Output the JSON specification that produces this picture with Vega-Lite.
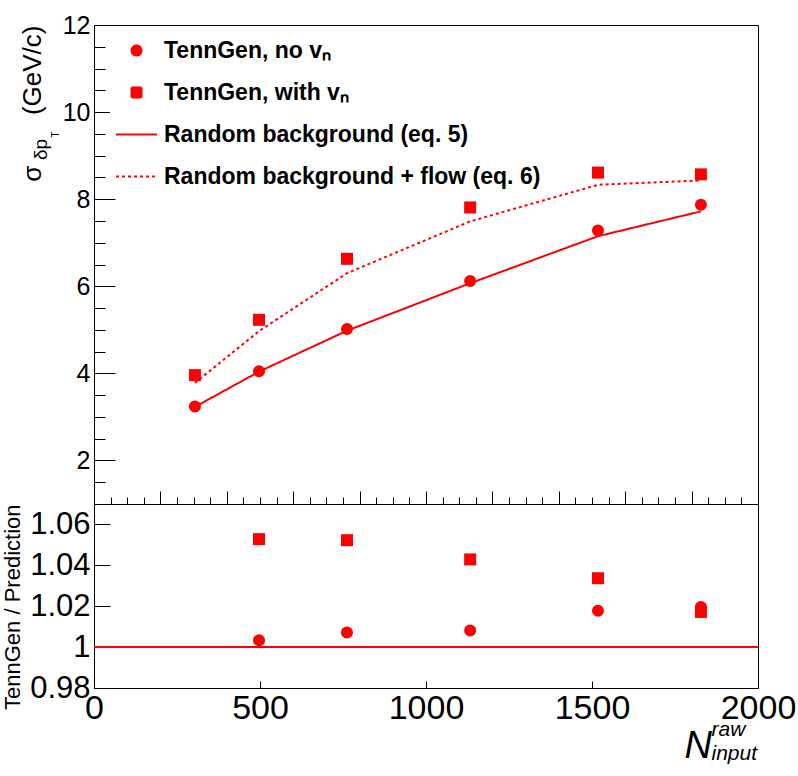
{
  "$schema": "https://vega.github.io/schema/vega-lite/v6.json",
  "background": "white",
  "padding": {"left": 0, "top": 12, "right": 0, "bottom": 0},
  "bounds": "flush",
  "spacing": 0,
  "config": {
    "font": "Liberation Sans",
    "view": {"stroke": "#000000", "strokeWidth": 1},
    "axis": {
      "domain": false,
      "grid": false,
      "tickColor": "#000000",
      "tickWidth": 1,
      "labelColor": "#000000",
      "titleColor": "#000000",
      "labelFont": "Liberation Sans",
      "titleFont": "Liberation Sans",
      "titleFontWeight": "normal",
      "labelOverlap": false,
      "labelFlush": false,
      "labelBound": false
    }
  },
  "datasets": {
    "sigma": [
      {"n": 304, "series": "TennGen, no v\u2099", "sigma": 3.24},
      {"n": 497, "series": "TennGen, no v\u2099", "sigma": 4.05},
      {"n": 762, "series": "TennGen, no v\u2099", "sigma": 5.02},
      {"n": 1133, "series": "TennGen, no v\u2099", "sigma": 6.12},
      {"n": 1518, "series": "TennGen, no v\u2099", "sigma": 7.28},
      {"n": 1828, "series": "TennGen, no v\u2099", "sigma": 7.87},
      {"n": 304, "series": "TennGen, with v\u2099", "sigma": 3.96},
      {"n": 497, "series": "TennGen, with v\u2099", "sigma": 5.23},
      {"n": 762, "series": "TennGen, with v\u2099", "sigma": 6.63},
      {"n": 1133, "series": "TennGen, with v\u2099", "sigma": 7.81},
      {"n": 1518, "series": "TennGen, with v\u2099", "sigma": 8.61},
      {"n": 1828, "series": "TennGen, with v\u2099", "sigma": 8.57}
    ],
    "prediction": [
      {"n": 304, "series": "Random background (eq. 5)", "pred": 3.23},
      {"n": 497, "series": "Random background (eq. 5)", "pred": 4.04},
      {"n": 762, "series": "Random background (eq. 5)", "pred": 4.98},
      {"n": 1133, "series": "Random background (eq. 5)", "pred": 6.07},
      {"n": 1518, "series": "Random background (eq. 5)", "pred": 7.15},
      {"n": 1828, "series": "Random background (eq. 5)", "pred": 7.72},
      {"n": 304, "series": "Random background + flow (eq. 6)", "pred": 3.78},
      {"n": 497, "series": "Random background + flow (eq. 6)", "pred": 4.97},
      {"n": 762, "series": "Random background + flow (eq. 6)", "pred": 6.3},
      {"n": 1133, "series": "Random background + flow (eq. 6)", "pred": 7.49},
      {"n": 1518, "series": "Random background + flow (eq. 6)", "pred": 8.33},
      {"n": 1828, "series": "Random background + flow (eq. 6)", "pred": 8.43}
    ],
    "ratio": [
      {"n": 497, "series": "TennGen, no v\u2099", "ratio": 1.0033},
      {"n": 762, "series": "TennGen, no v\u2099", "ratio": 1.0072},
      {"n": 1133, "series": "TennGen, no v\u2099", "ratio": 1.0081},
      {"n": 1518, "series": "TennGen, no v\u2099", "ratio": 1.0178},
      {"n": 1828, "series": "TennGen, no v\u2099", "ratio": 1.0196},
      {"n": 497, "series": "TennGen, with v\u2099", "ratio": 1.0528},
      {"n": 762, "series": "TennGen, with v\u2099", "ratio": 1.0523},
      {"n": 1133, "series": "TennGen, with v\u2099", "ratio": 1.0429},
      {"n": 1518, "series": "TennGen, with v\u2099", "ratio": 1.0337},
      {"n": 1828, "series": "TennGen, with v\u2099", "ratio": 1.0172}
    ],
    "unity": [{"ratio": 1}]
  },
  "resolve": {
    "scale": {"color": "independent", "shape": "independent", "strokeDash": "independent"},
    "legend": {"color": "independent", "shape": "independent", "strokeDash": "independent"}
  },
  "vconcat": [
    {
      "width": 664,
      "height": 479,
      "resolve": {"axis": {"x": "independent", "y": "independent"}},
      "layer": [
        {
          "data": {"name": "sigma"},
          "mark": {"type": "point", "filled": true, "size": 144, "opacity": 1},
          "encoding": {
            "x": {
              "field": "n", "type": "quantitative",
              "scale": {"domain": [0, 2000], "nice": false, "zero": false},
              "axis": {
                "orient": "bottom",
                "values": [0, 50, 100, 150, 200, 250, 300, 350, 400, 450, 500, 550, 600, 650, 700, 750, 800, 850, 900, 950, 1000, 1050, 1100, 1150, 1200, 1250, 1300, 1350, 1400, 1450, 1500, 1550, 1600, 1650, 1700, 1750, 1800, 1850, 1900, 1950, 2000],
                "labels": false,
                "tickSize": {"condition": {"test": "datum.value % 200 === 0", "value": -13}, "value": -7},
                "title": "\u03b4p",
                "titleFontSize": 19,
                "titleAngle": 270,
                "titleAlign": "center",
                "titleBaseline": "alphabetic",
                "titleX": -48,
                "titleY": -355
              }
            },
            "y": {
              "field": "sigma", "type": "quantitative",
              "scale": {"domain": [1, 12], "nice": false, "zero": false},
              "axis": {
                "orient": "left",
                "values": [1.5, 2, 2.5, 3, 3.5, 4, 4.5, 5, 5.5, 6, 6.5, 7, 7.5, 8, 8.5, 9, 9.5, 10, 10.5, 11, 11.5, 12],
                "labelExpr": "datum.value % 2 === 0 ? format(datum.value, 'd') : ''",
                "labelFontSize": 25,
                "labelBaseline": "middle",
                "labelPadding": 25,
                "tickSize": {"condition": {"test": "datum.value % 2 === 0", "value": -21}, "value": -11},
                "title": "\u03c3\u00a0\u00a0\u00a0\u00a0\u00a0\u00a0\u00a0(GeV/c)",
                "titleFontSize": 26,
                "titleAngle": 270,
                "titleAlign": "right",
                "titleBaseline": "alphabetic",
                "titleX": -54,
                "titleY": 0
              }
            },
            "color": {
              "field": "series", "type": "nominal",
              "scale": {
                "domain": ["TennGen, no v\u2099", "TennGen, with v\u2099", "Random background (eq. 5)", "Random background + flow (eq. 6)"],
                "range": ["#ff0000", "#ff0000", "#ff0000", "#ff0000"]
              },
              "legend": {
                "title": null, "orient": "none", "legendX": 16, "legendY": 14, "padding": 0, "fillColor": "white",
                "labelFont": "Liberation Sans", "labelFontSize": 23, "labelFontWeight": "bold", "labelColor": "#000000", "labelLimit": 600,
                "symbolSize": 100, "symbolOffset": 15, "labelOffset": 16, "rowPadding": 18, "symbolStrokeWidth": 2,
                "encode": {"symbols": {"update": {"fill": {"value": "#ff0000"}, "stroke": {"value": "#ff0000"}, "strokeWidth": {"value": 2}, "opacity": {"value": 1}}}}
              }
            },
            "shape": {
              "field": "series", "type": "nominal",
              "scale": {
                "domain": ["TennGen, no v\u2099", "TennGen, with v\u2099", "Random background (eq. 5)", "Random background + flow (eq. 6)"],
                "range": ["circle", "square", "M-4.1,0H4.1", "M-4.1,0H4.1"]
              },
              "legend": {
                "title": null, "orient": "none", "legendX": 16, "legendY": 14, "padding": 0, "fillColor": "white",
                "labelFont": "Liberation Sans", "labelFontSize": 23, "labelFontWeight": "bold", "labelColor": "#000000", "labelLimit": 600,
                "symbolSize": 100, "symbolOffset": 15, "labelOffset": 16, "rowPadding": 18, "symbolStrokeWidth": 2,
                "encode": {"symbols": {"update": {"fill": {"value": "#ff0000"}, "stroke": {"value": "#ff0000"}, "strokeWidth": {"value": 2}, "opacity": {"value": 1}}}}
              }
            }
          }
        },
        {
          "data": {"name": "prediction"},
          "mark": {"type": "line", "strokeWidth": 2},
          "encoding": {
            "x": {
              "field": "n", "type": "quantitative",
              "scale": {"domain": [0, 2000], "nice": false, "zero": false},
              "axis": {
                "orient": "top", "ticks": false, "labels": false,
                "title": "raw", "titleFontSize": 21, "titleFontStyle": "italic",
                "titleAngle": 0, "titleAlign": "left", "titleBaseline": "alphabetic",
                "titleX": 617, "titleY": 710
              }
            },
            "y": {
              "field": "pred", "type": "quantitative",
              "scale": {"domain": [1, 12], "nice": false, "zero": false},
              "axis": {
                "orient": "right", "ticks": false, "labels": false,
                "title": "T", "titleFontSize": 10,
                "titleAngle": 270, "titleAlign": "center", "titleBaseline": "alphabetic",
                "titleX": -700, "titleY": 109
              }
            },
            "color": {
              "field": "series", "type": "nominal",
              "scale": {
                "domain": ["TennGen, no v\u2099", "TennGen, with v\u2099", "Random background (eq. 5)", "Random background + flow (eq. 6)"],
                "range": ["#ff0000", "#ff0000", "#ff0000", "#ff0000"]
              },
              "legend": {
                "title": null, "orient": "none", "legendX": 16, "legendY": 14, "padding": 0, "fillColor": "white",
                "labelFont": "Liberation Sans", "labelFontSize": 23, "labelFontWeight": "bold", "labelColor": "#000000", "labelLimit": 600,
                "symbolSize": 100, "symbolOffset": 15, "labelOffset": 16, "rowPadding": 18, "symbolStrokeWidth": 2,
                "encode": {"symbols": {"update": {"fill": {"value": "#ff0000"}, "stroke": {"value": "#ff0000"}, "strokeWidth": {"value": 2}, "opacity": {"value": 1}}}}
              }
            },
            "strokeDash": {
              "field": "series", "type": "nominal",
              "scale": {
                "domain": ["TennGen, no v\u2099", "TennGen, with v\u2099", "Random background (eq. 5)", "Random background + flow (eq. 6)"],
                "range": [[1, 0], [1, 0], [1, 0], [3, 3]]
              },
              "legend": {
                "title": null, "orient": "none", "legendX": 16, "legendY": 14, "padding": 0, "fillColor": "white",
                "labelFont": "Liberation Sans", "labelFontSize": 23, "labelFontWeight": "bold", "labelColor": "#000000", "labelLimit": 600,
                "symbolSize": 100, "symbolOffset": 15, "labelOffset": 16, "rowPadding": 18, "symbolStrokeWidth": 2,
                "encode": {"symbols": {"update": {"fill": {"value": "#ff0000"}, "stroke": {"value": "#ff0000"}, "strokeWidth": {"value": 2}, "opacity": {"value": 1}}}}
              }
            }
          }
        }
      ]
    },
    {
      "width": 664,
      "height": 184,
      "resolve": {"axis": {"x": "independent", "y": "independent"}},
      "layer": [
        {
          "data": {"name": "unity"},
          "mark": {"type": "rule", "color": "#ff0000", "strokeWidth": 2},
          "encoding": {
            "y": {
              "field": "ratio", "type": "quantitative",
              "scale": {"domain": [0.98, 1.07], "nice": false, "zero": false},
              "axis": {
                "orient": "left",
                "values": [0.98, 1, 1.02, 1.04, 1.06],
                "labelExpr": "datum.value === 1 ? '1' : format(datum.value, '.2f')",
                "labelFontSize": 31,
                "labelBaseline": "middle",
                "labelPadding": 20,
                "tickSize": -16,
                "title": "TennGen / Prediction",
                "titleFontSize": 22,
                "titleAngle": 270,
                "titleAlign": "right",
                "titleBaseline": "alphabetic",
                "titleX": -75,
                "titleY": 0
              }
            }
          }
        },
        {
          "data": {"name": "ratio"},
          "mark": {"type": "point", "filled": true, "size": 144, "opacity": 1, "color": "#ff0000"},
          "encoding": {
            "x": {
              "field": "n", "type": "quantitative",
              "scale": {"domain": [0, 2000], "nice": false, "zero": false},
              "axis": {
                "orient": "bottom",
                "values": [0, 500, 1000, 1500, 2000],
                "format": "d",
                "labelFontSize": 34,
                "labelBaseline": "top",
                "labelPadding": 10,
                "tickSize": -7,
                "title": "N",
                "titleFontSize": 38,
                "titleFontStyle": "italic",
                "titleAngle": 0,
                "titleAlign": "left",
                "titleBaseline": "alphabetic",
                "titleX": 590,
                "titleY": 69
              }
            },
            "y": {
              "field": "ratio", "type": "quantitative",
              "scale": {"domain": [0.98, 1.07], "nice": false, "zero": false},
              "axis": {
                "orient": "right", "ticks": false, "labels": false,
                "title": "input", "titleFontSize": 21, "titleFontStyle": "italic",
                "titleAngle": 0, "titleAlign": "left", "titleBaseline": "alphabetic",
                "titleX": -47, "titleY": 255
              }
            },
            "shape": {
              "field": "series", "type": "nominal",
              "scale": {"domain": ["TennGen, no v\u2099", "TennGen, with v\u2099"], "range": ["circle", "square"]},
              "legend": null
            }
          }
        }
      ]
    }
  ]
}
